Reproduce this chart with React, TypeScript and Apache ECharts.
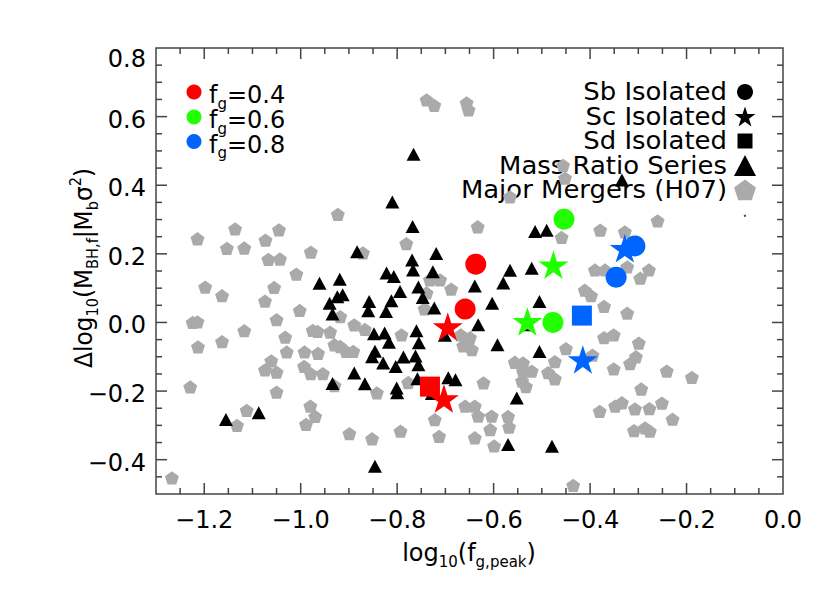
import React, { useEffect, useRef } from 'react';
import * as echarts from 'echarts';

const FONT = 'DejaVu Sans';

// tick labels
const xTickLabels = [-1.2, -1.0, -0.8, -0.6, -0.4, -0.2, 0.0];
const yTickLabels = [-0.4, -0.2, 0.0, 0.2, 0.4, 0.6, 0.8];

// gas fractions
const fgLabels = ['0.4', '0.6', '0.8'];
const fgColors = ['#ff0000', '#22ff00', '#0064ff'];

// Major Mergers (H07) - gray pentagons
const majorMergersH07: number[][] = [
  [-0.739, 0.649], [-0.723, 0.633], [-0.656, 0.640], [-0.652, 0.620], [-0.566, 0.366], [-0.633, 0.279],
  [-0.923, 0.315], [-1.136, 0.273], [-1.045, 0.270], [-1.214, 0.244], [-1.073, 0.240], [-1.153, 0.216],
  [-1.117, 0.217], [-1.067, 0.184], [-1.043, 0.185], [-0.979, 0.205], [-1.009, 0.141], [-1.198, 0.103],
  [-1.163, 0.078], [-1.055, 0.102], [-1.074, 0.062], [-1.002, 0.035], [-1.224, 0.000], [-1.214, 0.002],
  [-1.050, 0.008], [-1.117, -0.024], [-1.032, -0.043], [-1.163, -0.056], [-1.213, -0.071], [-0.975, -0.023],
  [-0.965, -0.026], [-1.029, -0.086], [-0.992, -0.086], [-0.964, -0.090], [-1.061, -0.112], [-1.074, -0.138],
  [-1.050, -0.145], [-0.993, -0.128], [-0.979, -0.149], [-0.954, -0.149], [-1.229, -0.188], [-1.050, -0.203],
  [-1.112, -0.256], [-1.132, -0.300], [-0.980, -0.244], [-0.970, -0.274], [-0.989, -0.297], [-1.267, -0.453],
  [-0.939, -0.028], [-0.930, -0.065], [-0.918, -0.070], [-0.906, -0.084], [-0.891, -0.084], [-0.889, -0.007],
  [-0.867, -0.020], [-0.918, 0.017], [-0.791, -0.036], [-0.871, 0.203], [-0.781, 0.230], [-0.732, 0.124],
  [-0.711, 0.124], [-0.688, 0.097], [-0.739, 0.086], [-0.743, 0.040], [-0.930, -0.184], [-0.842, -0.205],
  [-0.777, -0.175], [-0.899, -0.324], [-0.852, -0.339], [-0.793, -0.317], [-0.722, -0.283], [-0.713, -0.332],
  [-0.621, -0.176], [-0.659, -0.244], [-0.639, -0.244], [-0.632, -0.273], [-0.604, -0.273], [-0.607, -0.312],
  [-0.639, -0.336], [-0.570, -0.274], [-0.568, -0.305], [-0.599, -0.360], [-0.668, -0.036], [-0.649, -0.044],
  [-0.663, -0.068], [-0.645, -0.079], [-0.456, 0.458], [-0.452, 0.421], [-0.459, 0.248], [-0.379, 0.269],
  [-0.328, 0.264], [-0.260, 0.296], [-0.390, 0.153], [-0.369, 0.153], [-0.323, 0.162], [-0.278, 0.153],
  [-0.296, 0.129], [-0.411, 0.094], [-0.398, 0.078], [-0.371, 0.047], [-0.323, 0.027], [-0.351, -0.036],
  [-0.371, -0.044], [-0.299, -0.060], [-0.450, -0.076], [-0.395, -0.095], [-0.556, -0.116], [-0.539, -0.118],
  [-0.521, -0.142], [-0.539, -0.143], [-0.473, -0.114], [-0.487, -0.146], [-0.473, -0.164], [-0.541, -0.171],
  [-0.533, -0.187], [-0.351, -0.135], [-0.317, -0.120], [-0.305, -0.100], [-0.241, -0.142], [-0.189, -0.160],
  [-0.294, -0.194], [-0.380, -0.259], [-0.348, -0.244], [-0.334, -0.234], [-0.307, -0.252], [-0.277, -0.251],
  [-0.251, -0.235], [-0.229, -0.282], [-0.309, -0.315], [-0.286, -0.307], [-0.276, -0.317], [-0.435, -0.475],
];

// Mass Ratio Series - black triangles
const massRatioSeries: number[][] = [
  [-0.766, 0.490], [-0.810, 0.351], [-0.768, 0.280], [-0.883, 0.206], [-0.719, 0.201], [-0.769, 0.182],
  [-0.767, 0.153], [-0.726, 0.148], [-0.822, 0.144], [-0.807, 0.134], [-0.919, 0.126], [-0.961, 0.114],
  [-0.794, 0.090], [-0.756, 0.103], [-0.747, 0.073], [-0.913, 0.081], [-0.924, 0.075], [-0.940, 0.056],
  [-0.934, 0.025], [-0.858, 0.061], [-0.860, 0.034], [-0.812, 0.063], [-0.823, 0.032], [-0.723, 0.042],
  [-0.639, 0.106], [-0.603, 0.056], [-0.632, -0.007], [-0.848, -0.033], [-0.826, -0.031], [-0.817, -0.058],
  [-0.760, -0.024], [-0.755, -0.059], [-0.701, -0.037], [-0.846, -0.084], [-0.852, -0.100], [-0.829, -0.118],
  [-0.803, -0.128], [-0.787, -0.101], [-0.762, -0.098], [-0.756, -0.123], [-0.889, -0.147], [-0.934, -0.178],
  [-0.867, -0.179], [-0.801, -0.191], [-0.800, -0.205], [-0.758, -0.164], [-0.728, -0.207], [-0.694, -0.161],
  [-0.679, -0.167], [-1.155, -0.283], [-1.087, -0.263], [-0.846, -0.419], [-0.566, 0.152], [-0.521, 0.158],
  [-0.580, 0.115], [-0.514, 0.265], [-0.490, 0.269], [-0.505, 0.061], [-0.531, -0.007], [-0.592, -0.065],
  [-0.505, -0.085], [-0.552, -0.220], [-0.570, -0.356], [-0.479, -0.361], [-0.334, 0.415],
];

// Isolated discs, one list per gas fraction (0.4, 0.6, 0.8)
const sbIsolated: number[][][] = [
  [[-0.637, 0.170], [-0.659, 0.039]],
  [[-0.454, 0.301], [-0.477, 0.000]],
  [[-0.307, 0.223], [-0.346, 0.132]],
];
const scIsolated: number[][][] = [
  [[-0.695, -0.012], [-0.703, -0.222]],
  [[-0.476, 0.168], [-0.530, 0.003]],
  [[-0.328, 0.216], [-0.415, -0.108]],
];
const sdIsolated: number[][][] = [
  [[-0.732, -0.187]],
  [],
  [[-0.417, 0.020]],
];
const strayDot: number[][] = [[-0.079, 0.311]];

const PENT = 'path://M50,0L97.55,34.55L79.39,90.45L20.61,90.45L2.45,34.55Z';
const STAR =
  'path://M50,0L61.23,34.55L97.55,34.55L68.17,55.9L79.39,90.45L50,69.1L20.61,90.45L31.83,55.9L2.45,34.55L38.77,34.55Z';

function regularPoints(cx: number, cy: number, R: number, n: number, innerRatio?: number) {
  const pts: number[][] = [];
  const total = innerRatio ? n * 2 : n;
  for (let i = 0; i < total; i++) {
    const a = -Math.PI / 2 + (i * 2 * Math.PI) / total;
    const rr = innerRatio && i % 2 === 1 ? R * innerRatio : R;
    pts.push([cx + rr * Math.cos(a), cy + rr * Math.sin(a)]);
  }
  return pts;
}

const fmt = (v: number) => (v < 0 ? '\u2212' + Math.abs(v).toFixed(1) : v.toFixed(1));

export default function App() {
  const ref = useRef<HTMLDivElement>(null);
  useEffect(() => {
    if (!ref.current) return;
    const chart = echarts.init(ref.current, undefined, { renderer: 'svg' });

    const series: any[] = [
      {
        name: 'Major Mergers (H07)',
        type: 'scatter',
        data: majorMergersH07,
        symbol: PENT,
        symbolSize: [14, 13.3],
        itemStyle: { color: '#aaaaaa', opacity: 1 },
        silent: true,
      },
      {
        name: 'Mass Ratio Series',
        type: 'scatter',
        data: massRatioSeries,
        symbol: 'triangle',
        symbolSize: [14, 13],
        itemStyle: { color: '#000', opacity: 1 },
        silent: true,
      },
      {
        name: 'stray',
        type: 'scatter',
        data: strayDot,
        symbol: 'circle',
        symbolSize: 2,
        itemStyle: { color: '#000' },
        silent: true,
      },
    ];
    fgColors.forEach((c, i) => {
      series.push({
        name: 'Sb Isolated fg=' + fgLabels[i],
        type: 'scatter',
        data: sbIsolated[i],
        symbol: 'circle',
        symbolSize: 21,
        itemStyle: { color: c, opacity: 1 },
        silent: true,
      });
      series.push({
        name: 'Sd Isolated fg=' + fgLabels[i],
        type: 'scatter',
        data: sdIsolated[i],
        symbol: 'rect',
        symbolSize: 20,
        itemStyle: { color: c, opacity: 1 },
        silent: true,
      });
      series.push({
        name: 'Sc Isolated fg=' + fgLabels[i],
        type: 'scatter',
        data: scIsolated[i],
        symbol: STAR,
        symbolSize: [30, 28.5],
        itemStyle: { color: c, opacity: 1 },
        silent: true,
      });
    });

    chart.setOption({
      animation: false,
      backgroundColor: '#fff',
      grid: {
        left: 156,
        right: 47,
        top: 48,
        bottom: 99,
        containLabel: false,
        show: true,
        borderColor: '#444',
        borderWidth: 1.5,
        backgroundColor: 'transparent',
      },
      xAxis: {
        type: 'value',
        min: -1.3,
        max: 0,
        axisLine: { show: false },
        axisTick: { show: false },
        splitLine: { show: false },
        axisLabel: {
          show: true,
          customValues: xTickLabels,
          formatter: (v: number) => fmt(v),
          margin: 14,
          fontSize: 24,
          fontFamily: FONT,
          color: '#000',
        },
      },
      yAxis: {
        type: 'value',
        min: -0.5,
        max: 0.8,
        axisLine: { show: false },
        axisTick: { show: false },
        splitLine: { show: false },
        axisLabel: {
          show: true,
          customValues: yTickLabels,
          formatter: (v: number) => (Math.abs(v - 0.8) < 1e-6 ? '{t|' + fmt(v) + '}' : '{n|' + fmt(v) + '}'),
          margin: 10,
          fontSize: 24,
          fontFamily: FONT,
          color: '#000',
          rich: {
            t: { fontSize: 24, fontFamily: FONT, color: '#000', padding: [22, 0, 0, 0] },
            n: { fontSize: 24, fontFamily: FONT, color: '#000', padding: [6, 0, 0, 0] },
          },
        },
      },
      series,
    });

    // ticks (inside, on all four sides) placed through the axis scales
    const px = (v: number) => chart.convertToPixel({ xAxisIndex: 0 }, v) as number;
    const py = (v: number) => chart.convertToPixel({ yAxisIndex: 0 }, v) as number;
    const L = px(-1.3);
    const R = px(0);
    const T = py(0.8);
    const B = py(-0.5);
    const tickStyle = { stroke: '#444', lineWidth: 1.5 };
    const graphic: any[] = [];
    const MAJ = 11;
    const MIN = 6;
    for (let k = -25; k <= -1; k++) {
      const v = k * 0.05;
      const len = k % 4 === 0 ? MAJ : MIN;
      const x = px(v);
      graphic.push({ type: 'line', shape: { x1: x, y1: B, x2: x, y2: B - len }, style: tickStyle, silent: true });
      graphic.push({ type: 'line', shape: { x1: x, y1: T, x2: x, y2: T + len }, style: tickStyle, silent: true });
    }
    for (let k = -9; k <= 15; k++) {
      const v = k * 0.05;
      const len = k % 4 === 0 ? MAJ : MIN;
      const y = py(v);
      graphic.push({ type: 'line', shape: { x1: L, y1: y, x2: L + len, y2: y }, style: tickStyle, silent: true });
      graphic.push({ type: 'line', shape: { x1: R, y1: y, x2: R - len, y2: y }, style: tickStyle, silent: true });
    }

    const subRich = {
      m: { fontSize: 24, fontFamily: FONT, color: '#000', lineHeight: 32, verticalAlign: 'middle' },
      s: { fontSize: 15, fontFamily: FONT, color: '#000', lineHeight: 15, verticalAlign: 'bottom' },
      p: { fontSize: 15, fontFamily: FONT, color: '#000', lineHeight: 15, verticalAlign: 'top' },
    };

    // left legend: gas fractions
    const legRowsL = [92, 117, 141.5];
    fgColors.forEach((c, i) => {
      graphic.push({ type: 'circle', shape: { cx: 194, cy: legRowsL[i], r: 7.5 }, style: { fill: c } });
      graphic.push({
        type: 'text',
        x: 209,
        y: legRowsL[i] + 3,
        style: {
          text: '{m|f}{s|g}{m|=' + fgLabels[i] + '}',
          rich: subRich,
          align: 'left',
          verticalAlign: 'middle',
        },
      });
    });
    // right legend: morphologies
    const legNames = ['Sb Isolated', 'Sc Isolated', 'Sd Isolated', 'Mass Ratio Series', 'Major Mergers (H07)'];
    const legRowsR = [92, 116.5, 141, 166, 190];
    legNames.forEach((n, i) => {
      graphic.push({
        type: 'text',
        x: 727,
        y: legRowsR[i],
        scaleX: 1.08,
        style: { text: n, fontSize: 24, fontFamily: FONT, fill: '#000', align: 'right', verticalAlign: 'middle' },
      });
    });
    const sx = 745;
    graphic.push({ type: 'circle', shape: { cx: sx, cy: legRowsR[0], r: 8 }, style: { fill: '#000' } });
    graphic.push({
      type: 'polygon',
      shape: { points: regularPoints(sx, legRowsR[1] + 1, 11, 5, 0.382) },
      style: { fill: '#000' },
    });
    graphic.push({ type: 'rect', shape: { x: sx - 7.5, y: legRowsR[2] - 7.5, width: 15, height: 15 }, style: { fill: '#000' } });
    graphic.push({
      type: 'polygon',
      shape: { points: [[sx, legRowsR[3] - 11], [sx + 11, legRowsR[3] + 10], [sx - 11, legRowsR[3] + 10]] },
      style: { fill: '#000' },
    });
    graphic.push({
      type: 'polygon',
      shape: { points: regularPoints(sx, legRowsR[4] + 1, 11.5, 5) },
      style: { fill: '#aaaaaa' },
    });
    // axis titles
    graphic.push({
      type: 'text',
      x: 469,
      y: 553,
      style: {
        text: '{m|log}{s|10}{m|(f}{s|g,peak}{m|)}',
        rich: subRich,
        align: 'center',
        verticalAlign: 'middle',
      },
    });
    graphic.push({
      type: 'text',
      x: 84,
      y: 268,
      rotation: Math.PI / 2,
      scaleX: 0.97,
      style: {
        text: '{m|\u0394log}{s|10}{m|(M}{s|BH,f}{m||M}{s|b}{m|\u03c3}{p|2}{m|)}',
        rich: subRich,
        align: 'center',
        verticalAlign: 'middle',
      },
    });

    chart.setOption({ graphic });
    return () => chart.dispose();
  }, []);
  return <div ref={ref} style={{ width: 830, height: 593, position: 'absolute', left: 0, top: 0 }} />;
}
